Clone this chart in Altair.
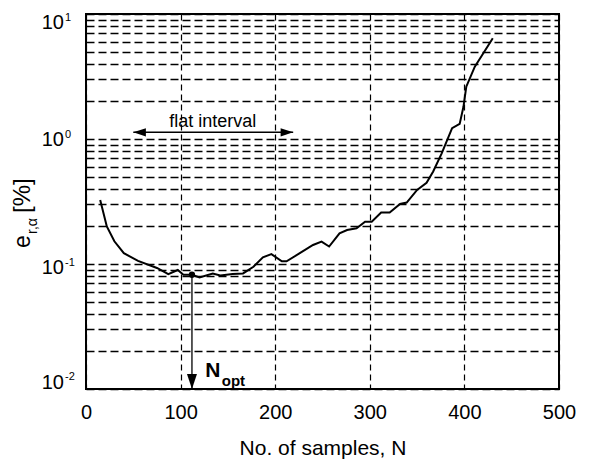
import altair as alt
import pandas as pd

# ---- data ----
N_vals = [15, 22, 30, 40, 55, 75, 87, 97, 103, 112, 120, 134, 142, 155, 166, 177, 187, 196,
          207, 212, 226, 240, 249, 257, 268, 276, 286, 295, 302, 312, 321, 332, 339, 350,
          360, 367, 376, 387, 395, 399, 402, 411, 420, 430]
err_vals = [0.325, 0.20, 0.152, 0.122, 0.106, 0.093, 0.083, 0.0895, 0.082, 0.082, 0.078, 0.084,
            0.081, 0.083, 0.084, 0.095, 0.113, 0.12, 0.105, 0.105, 0.122, 0.142, 0.151, 0.138,
            0.176, 0.187, 0.193, 0.218, 0.218, 0.258, 0.258, 0.302, 0.31, 0.391, 0.447, 0.55,
            0.768, 1.22, 1.32, 1.81, 2.62, 3.79, 4.85, 6.4]

x_ticks = [0, 100, 200, 300, 400, 500]
y_grid = [m * 10.0 ** d for d in (-2, -1, 0) for m in range(1, 10)] + [10.0]
y_major = [0.01, 0.1, 1.0, 10.0]
y_exp = ["-2", "-1", "0", "1"]

nopt_N, nopt_e = 112, 0.082
flat_start, flat_end, flat_y = 50, 219, 1.13

FONT = "Liberation Sans"

xscale = alt.Scale(domain=[0, 500], nice=False, zero=False)
yscale = alt.Scale(type="log", domain=[0.01, 10], nice=False)

curve = pd.DataFrame({"N": N_vals, "e": err_vals})

x_axis = alt.Axis(values=x_ticks, grid=True, gridDash=[6, 4], gridColor="black", gridWidth=1.2,
                  gridOpacity=1, ticks=False, domain=False, labelFontSize=20, labelFont=FONT,
                  labelColor="black", labelPadding=13, labelFlush=False,
                  title="No. of samples, N", titleFontSize=21, titleFont=FONT,
                  titleFontWeight="normal", titleColor="black", titlePadding=15)
y_axis = alt.Axis(values=y_grid, grid=True, gridDash=[8, 4], gridColor="black", gridWidth=1.5,
                  gridOpacity=1, ticks=False, domain=False, labels=False, title=None)

line = alt.Chart(curve).mark_line(color="black", strokeWidth=2).encode(
    x=alt.X("N:Q", scale=xscale, axis=x_axis),
    y=alt.Y("e:Q", scale=yscale, axis=y_axis),
)

# y tick labels 10^k (end labels are kept inside the frame, as in the reference)
ylab = pd.DataFrame({"v": y_major, "exp": y_exp})
label_layers = []
for i in range(len(y_major)):
    if i == len(y_major) - 1:          # top label
        base_kw = dict(baseline="top", dy=-1)
        exp_kw = dict(baseline="top", dy=-2)
    elif i == 0:                       # bottom label
        base_kw = dict(baseline="alphabetic", dy=0)
        exp_kw = dict(baseline="middle", dy=-12)
    else:
        shift = 4 if i == 1 else 1
        base_kw = dict(baseline="middle", dy=shift)
        exp_kw = dict(baseline="middle", dy=shift - 5)
    row = ylab.iloc[[i]]
    label_layers.append(
        alt.Chart(row).mark_text(align="right", fontSize=20, font=FONT, color="black",
                                 **base_kw).encode(
            x=alt.value(-22), y=alt.Y("v:Q", scale=yscale), text=alt.value("10")))
    label_layers.append(
        alt.Chart(row).mark_text(align="left", fontSize=11, font=FONT, color="black",
                                 **exp_kw).encode(
            x=alt.value(-21), y=alt.Y("v:Q", scale=yscale), text="exp:N"))

# y title e_{r,alpha} [%]
ytitle = pd.DataFrame({"t": ["e", "r,α", "[%]"]})
ytitle_pos = [(-56, 234, 23), (-49, 220, 14), (-56, 199, 24)]
ytitle_layers = [
    alt.Chart(ytitle.iloc[[i]]).mark_text(angle=270, align="left", baseline="alphabetic",
                                          font=FONT, color="black",
                                          fontSize=ytitle_pos[i][2]).encode(
        x=alt.value(ytitle_pos[i][0]), y=alt.value(ytitle_pos[i][1]), text="t:N")
    for i in range(3)
]

# Nopt arrow
nopt_df = pd.DataFrame({"N": [nopt_N], "e": [nopt_e], "e2": [0.01]})
nopt_rule = alt.Chart(nopt_df).mark_rule(color="black", strokeWidth=1.3).encode(
    x=alt.X("N:Q", scale=xscale), y=alt.Y("e:Q", scale=yscale), y2="e2:Q")
nopt_dot = alt.Chart(nopt_df).mark_point(filled=True, color="black", size=40, opacity=1).encode(
    x=alt.X("N:Q", scale=xscale), y=alt.Y("e:Q", scale=yscale))
nopt_head = alt.Chart(nopt_df).mark_point(filled=True, color="black", size=100, opacity=1,
                                          shape="M0,0L-1,-3L1,-3Z").encode(
    x=alt.X("N:Q", scale=xscale), y=alt.Y("e2:Q", scale=yscale))
nlab = pd.DataFrame({"N": [126, 143.5], "e": [0.0125, 0.01065], "t": ["N", "opt"]})
nopt_N_txt = alt.Chart(nlab.iloc[[0]]).mark_text(align="left", baseline="alphabetic", fontSize=21,
                                                 fontWeight="bold", font=FONT, color="black").encode(
    x=alt.X("N:Q", scale=xscale), y=alt.Y("e:Q", scale=yscale), text="t:N")
nopt_opt_txt = alt.Chart(nlab.iloc[[1]]).mark_text(align="left", baseline="alphabetic", fontSize=15,
                                                   fontWeight="bold", font=FONT, color="black").encode(
    x=alt.X("N:Q", scale=xscale), y=alt.Y("e:Q", scale=yscale), text="t:N")

# flat interval arrow
flat_df = pd.DataFrame({"a": [flat_start], "b": [flat_end], "y": [flat_y],
                        "mid": [(flat_start + flat_end) / 2 - 0.5], "t": ["flat interval"]})
flat_rule = alt.Chart(flat_df).mark_rule(color="black", strokeWidth=1.5).encode(
    x=alt.X("a:Q", scale=xscale), x2="b:Q", y=alt.Y("y:Q", scale=yscale))
flat_left = alt.Chart(flat_df).mark_point(filled=True, color="black", size=70, opacity=1,
                                          shape="M0,0L3,-1L3,1Z").encode(
    x=alt.X("a:Q", scale=xscale), y=alt.Y("y:Q", scale=yscale))
flat_right = alt.Chart(flat_df).mark_point(filled=True, color="black", size=70, opacity=1,
                                           shape="M0,0L-3,-1L-3,1Z").encode(
    x=alt.X("b:Q", scale=xscale), y=alt.Y("y:Q", scale=yscale))
flat_txt = alt.Chart(flat_df).mark_text(align="center", baseline="alphabetic", dy=-5, fontSize=18,
                                        font=FONT, color="black").encode(
    x=alt.X("mid:Q", scale=xscale), y=alt.Y("y:Q", scale=yscale), text="t:N")

chart = alt.layer(
    line, *label_layers, *ytitle_layers, nopt_rule, nopt_head, nopt_dot,
    nopt_N_txt, nopt_opt_txt, flat_rule, flat_left, flat_right, flat_txt
).properties(
    width=473, height=375,
    autosize=alt.AutoSizeParams(type="none"),
    padding={"left": 78, "top": 6, "right": 27, "bottom": 76},
    background="white",
).configure_view(stroke="black", strokeWidth=2)

chart.save("out.html", embed_options={"renderer": "svg", "actions": False})
